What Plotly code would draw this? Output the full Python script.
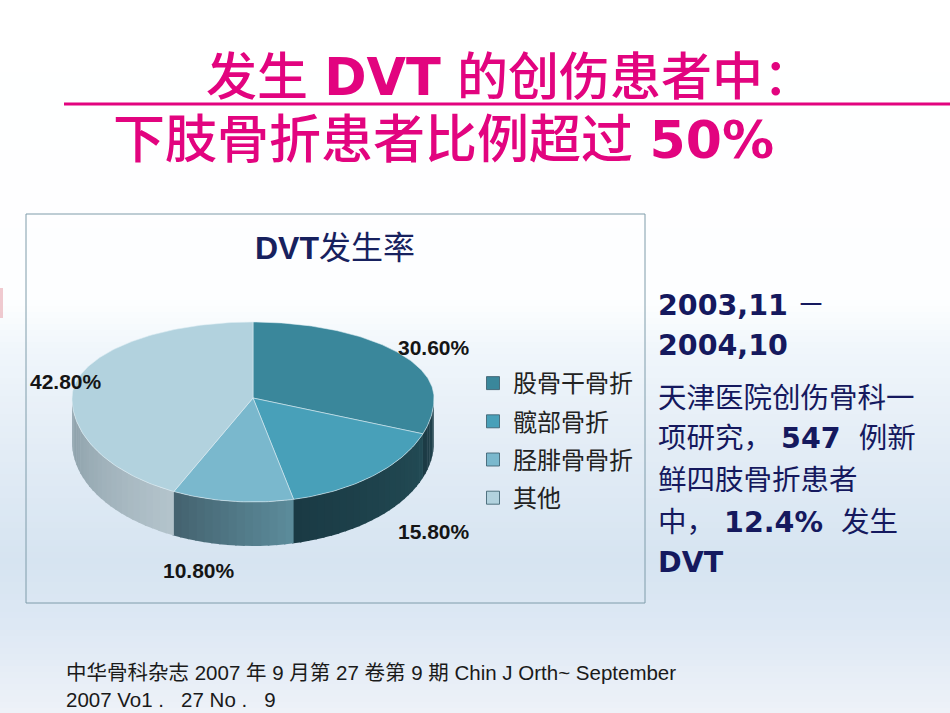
import numpy as np
import plotly.graph_objects as go

# ---------------- data ----------------
categories = ["股骨干骨折", "髋部骨折", "胫腓骨骨折", "其他"]
values = [30.6, 15.8, 10.8, 42.8]
chart_title = "DVT发生率"
title_line1 = ["发生 ", "DVT", " 的创伤患者中："]
title_line2 = ["下肢骨折患者比例超过 ", "50%"]
side_lines = [
    "<b>2003,11</b> －",
    "<b>2004,10</b>",
    "天津医院创伤骨科一",
    "项研究， <b>547</b>  例新",
    "鲜四肢骨折患者",
    "中， <b>12.4%</b>  发生",
    "<b>DVT</b>",
]
footer_lines = [
    "中华骨科杂志 2007 年 9 月第 27 卷第 9 期 Chin J Orth~ September",
    "2007 Vo1 .   27 No .   9",
]

# ---------------- styles ----------------
W, H = 950, 713
top_colors = ["#3A879B", "#48A0B9", "#7AB8CD", "#B2D2DE"]
side_colors = [((36, 70, 82), (28, 58, 68)),
               ((34, 74, 84), (26, 58, 68)),
               ((92, 140, 156), (68, 98, 110)),
               ((180, 196, 204), (136, 156, 166))]
label_pos = [(434, 347), (434, 531), (199, 570), (66, 381)]
CX, CY, RX, RY_FAR, RY_NEAR, DEPTH = 253, 398, 181, 76, 104, 44
MAGENTA = "#E2047F"
NAVY = "#15195E"
CJK = "Noto Sans CJK SC"


def ell(theta_deg, dy=0.0):
    t = np.radians(np.asarray(theta_deg, dtype=float))
    c = np.cos(t)
    ry = np.where(c > 0, RY_FAR, RY_NEAR)
    return CX + RX * np.sin(t), CY - ry * c + dy


def mix(c0, c1, f):
    return "rgb(%d,%d,%d)" % tuple(round(a + (b - a) * f) for a, b in zip(c0, c1))


fig = go.Figure()

total = sum(values)
ends = np.cumsum(values) / total * 360.0
starts = ends - np.array(values) / total * 360.0

# ---- side walls (front half only) ----
for i in range(len(values)):
    lo, hi = max(starts[i], 90.0), min(ends[i], 270.0)
    if hi <= lo:
        continue
    n = max(2, int((hi - lo) / 2.5))
    step = (hi - lo) / n
    for k in range(n):
        t0 = lo + k * step
        t1 = min(t0 + step + 0.5, 270.0)
        th = np.linspace(t0, t1, 6)
        xt, yt = ell(th)
        xb, yb = ell(th[::-1], DEPTH)
        col = mix(side_colors[i][0], side_colors[i][1], (k + 0.5) / n)
        fig.add_trace(go.Scatter(
            x=np.concatenate([xt, xb, xt[:1]]), y=np.concatenate([yt, yb, yt[:1]]),
            mode="lines", fill="toself", fillcolor=col, line=dict(width=0, color=col),
            hoverinfo="skip", showlegend=False))

# ---- top wedges ----
for i in range(len(values)):
    th = np.linspace(starts[i], ends[i], max(3, int(values[i] * 3.6) + 2))
    xa, ya = ell(th)
    fig.add_trace(go.Scatter(
        x=np.concatenate([[CX], xa, [CX]]), y=np.concatenate([[CY], ya, [CY]]),
        mode="lines", fill="toself", fillcolor=top_colors[i],
        line=dict(width=0.8, color="rgba(225,238,244,0.7)"),
        name=categories[i], hoverinfo="skip", showlegend=False))

# ---- legend entries ----
for i, cat in enumerate(categories):
    fig.add_trace(go.Scatter(
        x=[None], y=[None], mode="markers", name=cat, legendgroup=str(i),
        marker=dict(symbol="square", size=13, color=top_colors[i],
                    line=dict(color="rgba(60,95,110,0.85)", width=1)),
        showlegend=True))

# ---- data labels ----
for v, (lx, ly) in zip(values, label_pos):
    fig.add_annotation(x=lx, y=ly, text="<b>%.2f%%</b>" % v, showarrow=False,
                       font=dict(family="Liberation Sans, Arial", size=21, color="#151515"),
                       xanchor="center", yanchor="middle")

# ---------------- background ----------------
stops = [(0, (255, 255, 255)), (300, (253, 254, 255)), (350, (240, 246, 251)),
         (440, (228, 237, 246)), (560, (214, 228, 241)), (625, (221, 232, 244)),
         (713, (238, 242, 248))]
shapes = []
ys = [s[0] for s in stops]
for y0 in range(0, H, 6):
    ym = y0 + 3
    cols = [np.interp(ym, ys, [s[1][j] for s in stops]) for j in range(3)]
    shapes.append(dict(type="rect", xref="paper", yref="y", x0=0, x1=1, y0=y0, y1=y0 + 7,
                       fillcolor="rgb(%d,%d,%d)" % tuple(round(c) for c in cols),
                       line=dict(width=0), layer="below"))
shapes.append(dict(type="rect", xref="x", yref="y", x0=0, x1=3, y0=288, y1=318,
                   fillcolor="rgba(225,140,150,0.45)", line=dict(width=0), layer="below"))
shapes.append(dict(type="rect", xref="x", yref="y", x0=26, x1=645, y0=214, y1=603,
                   fillcolor="rgba(0,0,0,0)", line=dict(color="#7F9CAA", width=1), layer="below"))
shapes.append(dict(type="line", xref="x", yref="y", x0=64, x1=950, y0=104, y1=104,
                   line=dict(color=MAGENTA, width=3), layer="above"))

# ---------------- titles / texts ----------------
fig.add_annotation(x=204, y=77, xanchor="left", yanchor="middle", showarrow=False,
                   text=title_line1[0] + "<b>" + title_line1[1] + "</b>" + title_line1[2],
                   font=dict(family="DejaVu Sans, " + CJK, size=51, color=MAGENTA, weight=500))
fig.add_annotation(x=111, y=140, xanchor="left", yanchor="middle", showarrow=False,
                   text=title_line2[0] + "<b>" + title_line2[1] + "</b>",
                   font=dict(family="DejaVu Sans, " + CJK, size=52, color=MAGENTA, weight=500))
fig.add_annotation(x=335, y=248, xanchor="center", yanchor="middle", showarrow=False,
                   text="<b>DVT</b>" + chart_title[3:],
                   font=dict(family="Liberation Sans, Arial, " + CJK, size=32, color="#17215E"))

line_y = [305, 345, 398, 438, 480, 522, 562]
for txt, ly in zip(side_lines, line_y):
    fig.add_annotation(x=656, y=ly, xanchor="left", yanchor="middle", showarrow=False,
                       text=txt, font=dict(family="DejaVu Sans, " + CJK, size=28.5, color=NAVY))

fig.add_annotation(x=64, y=713, xanchor="left", yanchor="bottom", showarrow=False, align="left",
                   text="<br>".join(footer_lines),
                   font=dict(family="Liberation Sans, Arial, " + CJK, size=20.5, color="#1a1a1a"))

fig.update_layout(
    width=W, height=H, margin=dict(l=0, r=0, t=0, b=0),
    paper_bgcolor="white", plot_bgcolor="white",
    xaxis=dict(range=[0, W], visible=False, fixedrange=True),
    yaxis=dict(range=[H, 0], visible=False, fixedrange=True),
    shapes=shapes,
    showlegend=True,
    legend=dict(x=473 / W, y=1 - 361 / H, xanchor="left", yanchor="top",
                bgcolor="rgba(0,0,0,0)", font=dict(family=CJK, size=24, color="#222222"),
                tracegroupgap=4, traceorder="grouped"),
)

fig.write_html("out.html")
